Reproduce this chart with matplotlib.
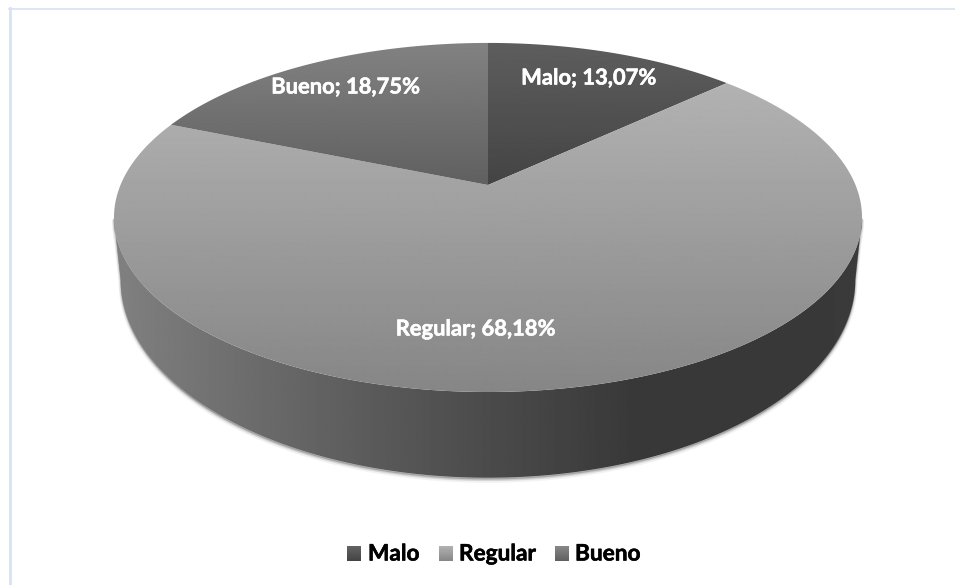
import numpy as np
import matplotlib
matplotlib.use('Agg')
import matplotlib.pyplot as plt
import matplotlib.patheffects as pe
from matplotlib.patches import Polygon

plt.rcParams['font.family'] = ['Lato', 'DejaVu Sans']

categories = ['Malo', 'Regular', 'Bueno']
values = [13.07, 68.18, 18.75]
label_texts = ['Malo; 13,07%', 'Regular; 68,18%', 'Bueno; 18,75%']


# pie is drawn in pixel coordinates, tilted disc with a bit of perspective
CX, CY = 488, 185
R, S, K = 367.5, 168.5, 0.186


def project(theta, sx=1.0, sy=1.0, dy=0.0):
    w = 1 + K * np.cos(theta)
    x = CX + sx * R * np.sin(theta) / w
    y = CY + dy - sy * S * np.cos(theta) / w
    return np.column_stack([x, y])


def vertical_fill(ax, pts, top, bottom, zorder):
    # vertical gradient clipped to a polygon
    patch = Polygon(pts, closed=True, fc='none', ec='none')
    ax.add_patch(patch)
    y0, y1 = pts[:, 1].min(), pts[:, 1].max()
    grad = np.linspace(top, bottom, 256).reshape(-1, 1)
    im = ax.imshow(grad, cmap='gray', vmin=0, vmax=255, aspect='auto',
                   extent=(pts[:, 0].min(), pts[:, 0].max(), y1, y0),
                   interpolation='bilinear', zorder=zorder)
    im.set_clip_path(patch)


fig = plt.figure(figsize=(9.55, 5.85), dpi=100)
ax = fig.add_axes([0, 0, 1, 1])

# light blue frame, only top and left are visible
ax.plot([9, 955], [8.5, 8.5], color='#d5e3f5', lw=1.2, zorder=1)
ax.plot([9.5, 9.5], [8, 585], color='#d5e3f5', lw=2, zorder=1)

# side wall, from the widest point of the rim round the front
off = np.arcsin(K)
t = np.linspace(np.pi / 2 + off, 3 * np.pi / 2 - off, 300)
rim = project(t)
base = project(t, 0.982, 1.134, 58)
wall = np.vstack([rim, base[::-1]])

# soft shadow below the wall
for grow, alpha in [(3.0, 0.05), (2.0, 0.08), (1.0, 0.12)]:
    ax.fill(wall[:, 0], wall[:, 1] + grow, color='black', alpha=alpha,
            lw=grow, zorder=2)

wall_patch = Polygon(wall, closed=True, fc='none', ec='none')
ax.add_patch(wall_patch)
stops_x = [118, 250, 390, 480, 640, 860]
stops_v = [128, 108, 88, 76, 56, 58]
xs = np.linspace(114, 862, 400)
wall_grad = np.interp(xs, stops_x, stops_v).reshape(1, -1)
im = ax.imshow(wall_grad, cmap='gray', vmin=0, vmax=255, aspect='auto',
               extent=(114, 862, 500, 200), interpolation='bilinear', zorder=3)
im.set_clip_path(wall_patch)

# top slices, clockwise from 12 o'clock
slice_grads = [(94, 68), (178, 134), (130, 96)]
edges = np.cumsum([0] + values) / sum(values) * 2 * np.pi
for i in range(len(values)):
    a = np.linspace(edges[i], edges[i + 1], 200)
    pts = np.vstack([[CX, CY], project(a)])
    vertical_fill(ax, pts, slice_grads[i][0], slice_grads[i][1], 4)

# data labels
label_pos = [(589, 78), (476, 329), (346, 87)]
for txt, (x, y) in zip(label_texts, label_pos):
    ax.text(x, y, txt, color='white', fontsize=15.8, fontweight='bold',
            ha='center', va='center', zorder=6,
            path_effects=[pe.withStroke(linewidth=0.4, foreground='white')])

# legend
legend_sq = [347, 439, 555]
legend_tx = [368, 459, 575]
legend_grads = [(100, 68), (178, 134), (136, 96)]
for x, tx, name, g in zip(legend_sq, legend_tx, categories, legend_grads):
    sq = np.array([[x, 546], [x + 14, 546], [x + 14, 561], [x, 561]])
    vertical_fill(ax, sq, g[0], g[1], 4)
    ax.text(tx, 554, name, color='black', fontsize=16.3, fontweight='bold',
            ha='left', va='center', zorder=6,
            path_effects=[pe.withStroke(linewidth=0.4, foreground='black')])

ax.set_xlim(0, 955)
ax.set_ylim(585, 0)
ax.axis('off')

fig.savefig('out.png', dpi=100, facecolor='white')
